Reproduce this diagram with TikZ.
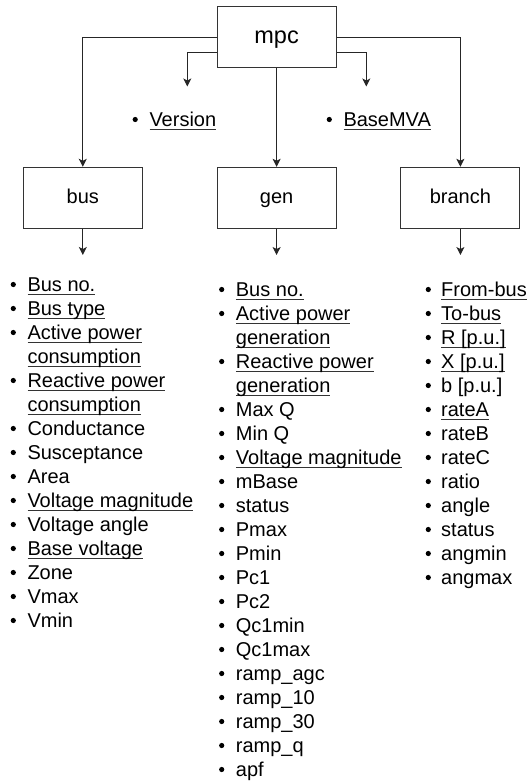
\documentclass[tikz,border=0pt]{standalone}
\usepackage{fontspec}
\setmainfont{Liberation Sans}
\usetikzlibrary{arrows.meta}
\newsavebox\ulbox
\newcommand\myul[1]{\sbox\ulbox{#1}\rlap{\color{black!80}\rule[-3.2pt]{\wd\ulbox}{1pt}}\usebox\ulbox}
\tikzset{
  boxnode/.style={draw=black!80, line width=1pt, minimum width=119pt, minimum height=61pt, inner sep=0pt, text height=11pt, text depth=0pt, font=\fontsize{20}{24}\selectfont},
  conn/.style={draw=black!85, line width=1pt, -{Stealth[length=8pt,width=8pt,inset=2pt]}},
  listtext/.style={anchor=base west, inner sep=0pt, font=\fontsize{20}{24}\selectfont},
}
\begin{document}
\begin{tikzpicture}[x=1pt,y=-1pt]
\useasboundingbox (0,0) rectangle (527,781);
% boxes
\node[boxnode, text height=13.4pt, font=\fontsize{23.5}{28}\selectfont] (mpc) at (276.6,37.3) {mpc};
\node[boxnode] (bus) at (82.8,197.8) {bus};
\node[boxnode] (gen) at (276.6,197.8) {gen};
\node[boxnode] (branch) at (460.4,197.8) {branch};
% top-level items
\node[listtext] (version) at (149.3,126.5) {\myul{Version}};
\node[listtext] (basemva) at (343.3,126.5) {\myul{BaseMVA}};
\fill (135.2,119.5) circle (2.6);
\fill (329.3,119.5) circle (2.6);
\coordinate (vtip) at (187.3,86.5);
\coordinate (btip) at (366.3,86.5);
% connectors
\draw[conn] (mpc.west |- 0,37.3) -| (bus.north);
\draw[conn] (mpc.east |- 0,37.3) -| (branch.north);
\draw[conn] (mpc.south) -- (gen.north);
\draw[conn] (mpc.west |- 0,52.3) -| (vtip);
\draw[conn] (mpc.east |- 0,52.3) -| (btip);
\coordinate (bustip) at (82.8,255);
\coordinate (gentip) at (276.6,255);
\coordinate (brtip) at (460.4,255);
\draw[conn] (bus.south) -- (bustip);
\draw[conn] (gen.south) -- (gentip);
\draw[conn] (branch.south) -- (brtip);
% bus list
\foreach \t/\bl/\ud [count=\i from 0] in {
  {Bus no.}/1/1, {Bus type}/1/1, {Active power}/1/1, {consumption}/0/1,
  {Reactive power}/1/1, {consumption}/0/1, {Conductance}/1/0, {Susceptance}/1/0,
  {Area}/1/0, {Voltage magnitude}/1/1, {Voltage angle}/1/0, {Base voltage}/1/1,
  {Zone}/1/0, {Vmax}/1/0, {Vmin}/1/0}{
  \node[listtext] (busitem\i) at (27.3,291.5+24*\i) {\ifnum\ud=1 \myul{\t}\else\t\fi};
  \ifnum\bl=1 \fill (13.3,284.5+24*\i) circle (2.6);\fi
}
% gen list
\foreach \t/\bl/\ud [count=\i from 0] in {
  {Bus no.}/1/1, {Active power}/1/1, {generation}/0/1, {Reactive power}/1/1,
  {generation}/0/1, {Max Q}/1/0, {Min Q}/1/0, {Voltage magnitude}/1/1,
  {mBase}/1/0, {status}/1/0, {Pmax}/1/0, {Pmin}/1/0, {Pc1}/1/0, {Pc2}/1/0,
  {Qc1min}/1/0, {Qc1max}/1/0, {ramp\_agc}/1/0, {ramp\_10}/1/0, {ramp\_30}/1/0,
  {ramp\_q}/1/0, {apf}/1/0}{
  \node[listtext] (genitem\i) at (235.7,296.5+24*\i) {\ifnum\ud=1 \myul{\t}\else\t\fi};
  \ifnum\bl=1 \fill (221.7,289.5+24*\i) circle (2.6);\fi
}
% branch list
\foreach \t/\bl/\ud [count=\i from 0] in {
  {From-bus}/1/1, {To-bus}/1/1, {R [p.u.]}/1/1, {X [p.u.]}/1/1, {b [p.u.]}/1/0,
  {rateA}/1/1, {rateB}/1/0, {rateC}/1/0, {ratio}/1/0, {angle}/1/0,
  {status}/1/0, {angmin}/1/0, {angmax}/1/0}{
  \node[listtext] (britem\i) at (441,296.5+24*\i) {\ifnum\ud=1 \myul{\t}\else\t\fi};
  \ifnum\bl=1 \fill (428.3,289.5+24*\i) circle (2.6);\fi
}
\end{tikzpicture}
\end{document}
